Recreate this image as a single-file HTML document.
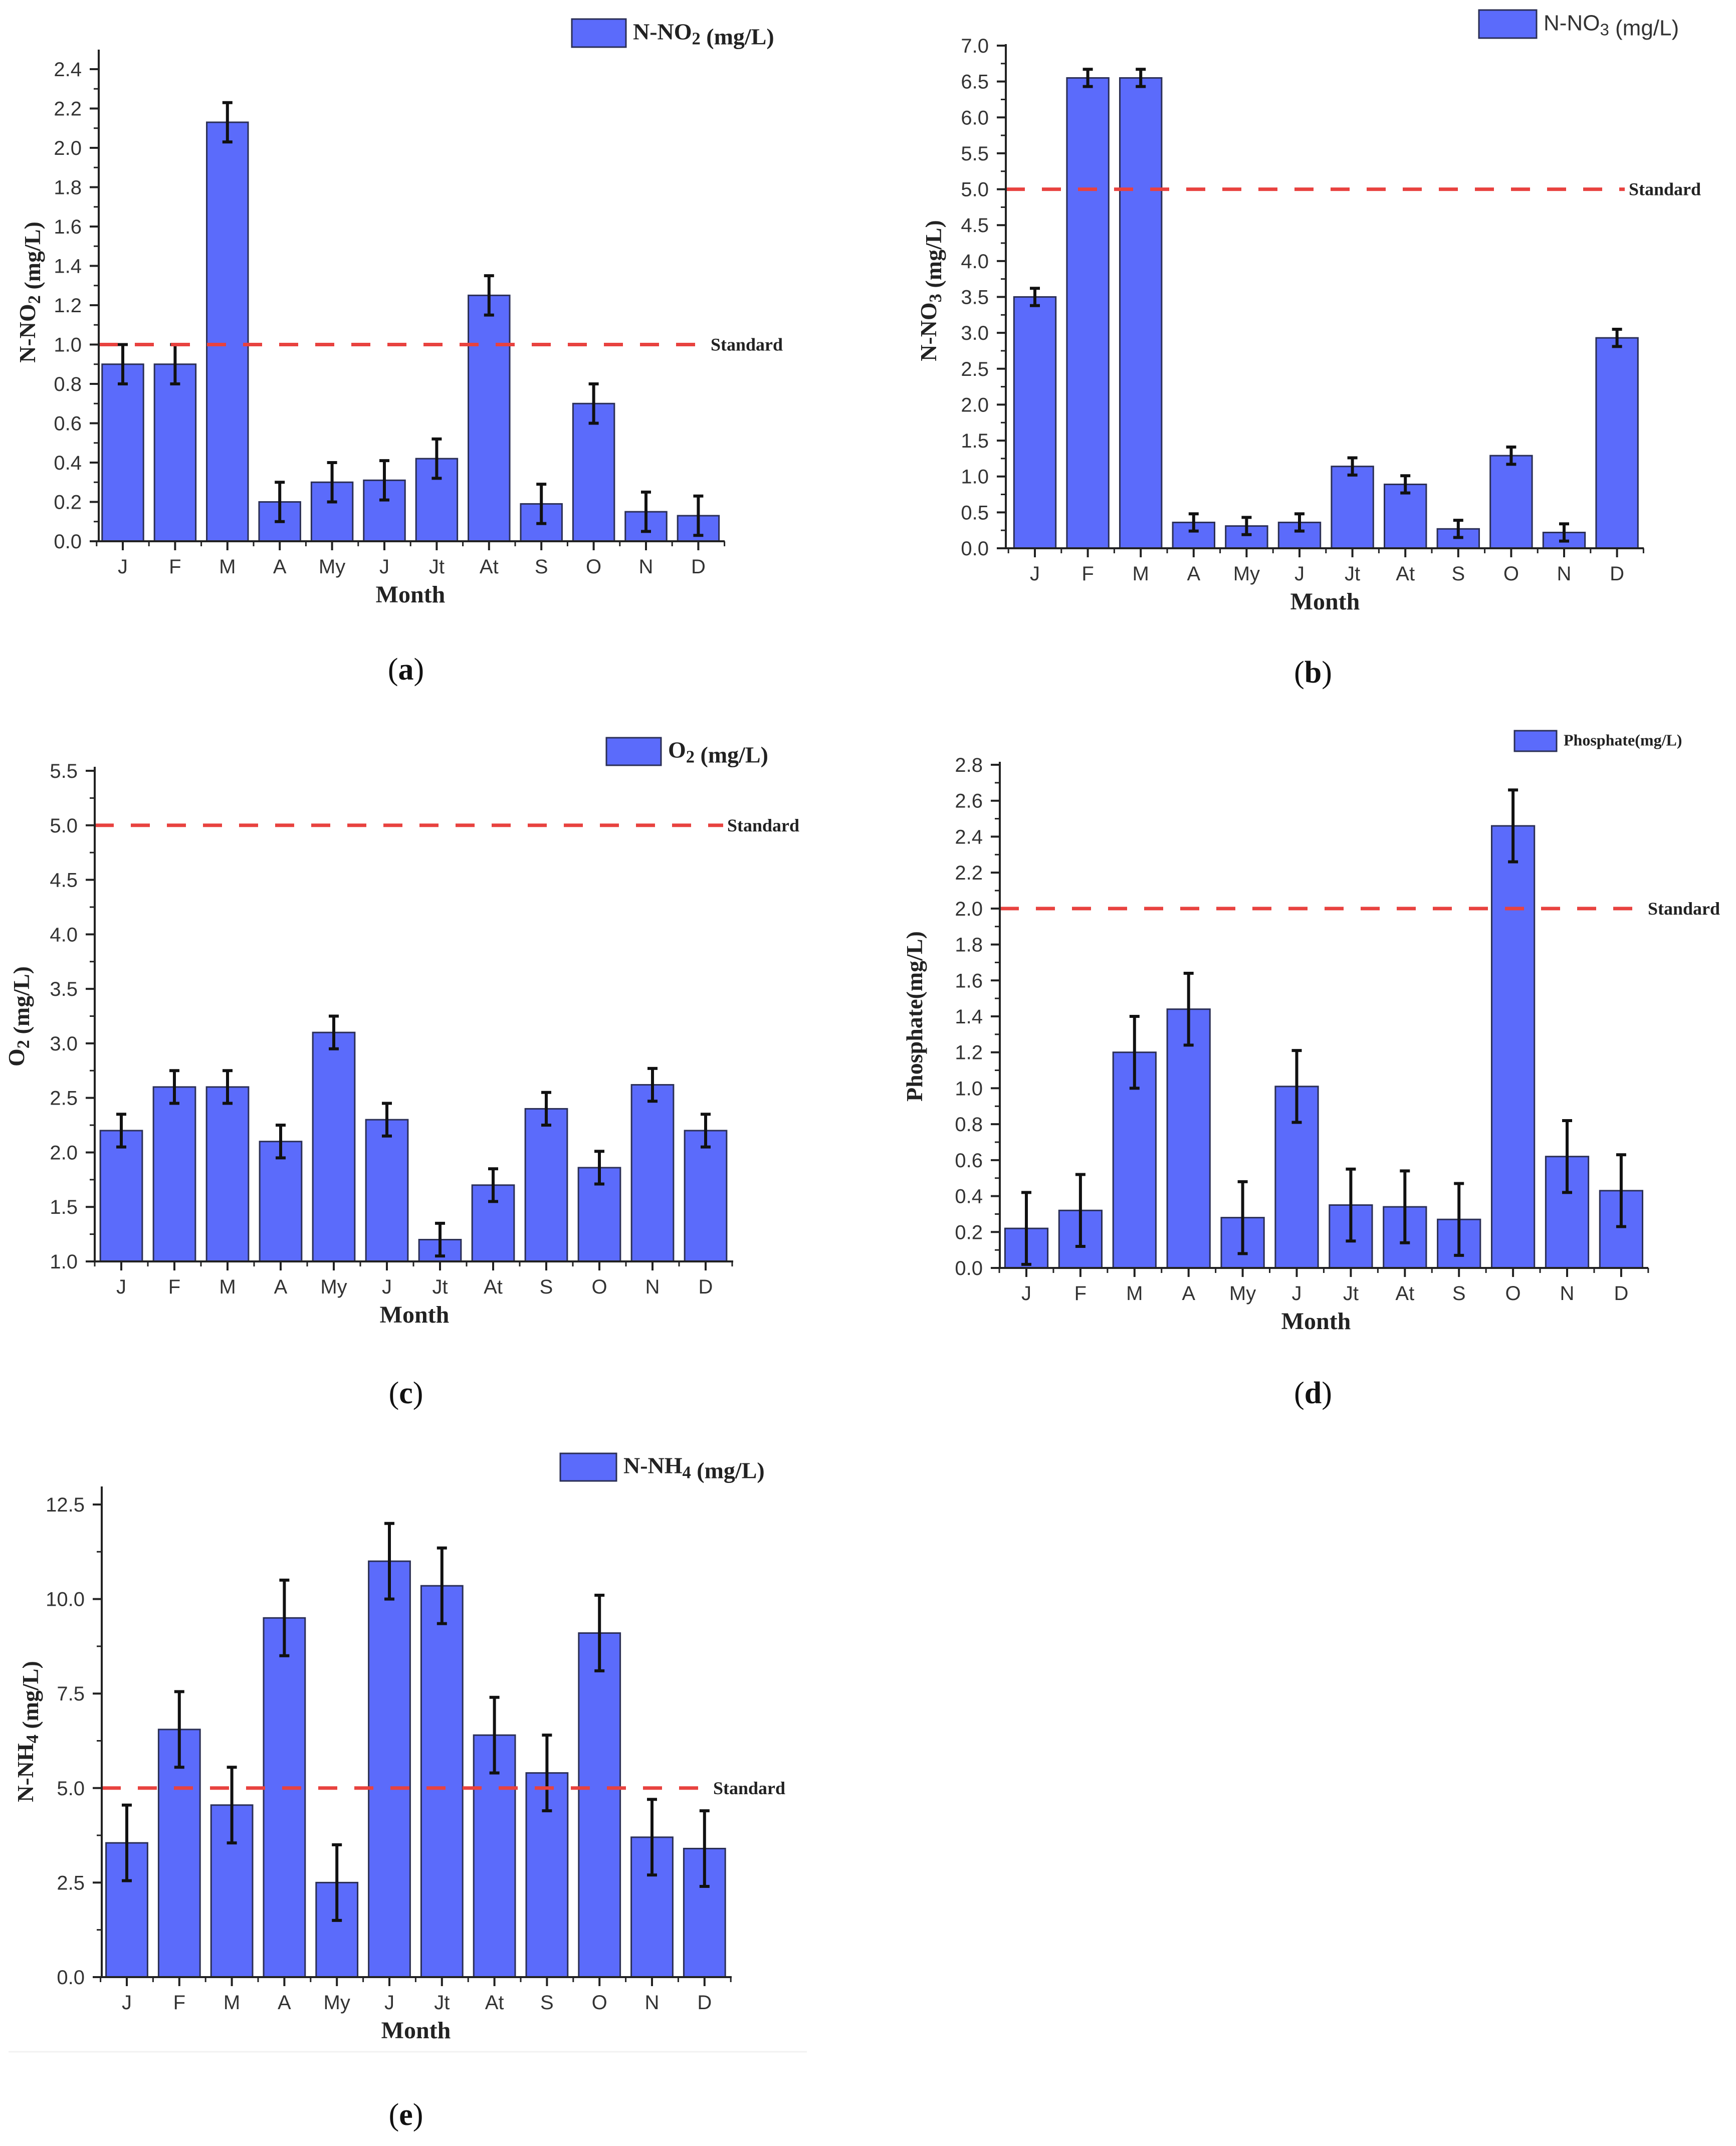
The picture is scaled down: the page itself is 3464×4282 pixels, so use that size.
<!DOCTYPE html>
<html><head><meta charset="utf-8">
<style>
html,body{margin:0;padding:0;background:#fff;}
svg{display:block;}
.tick{font-family:"Liberation Sans",Arial,sans-serif;fill:#333;}
.serif{font-family:"Liberation Serif","Times New Roman",serif;}
</style></head>
<body>
<svg id="fig" width="3464" height="4282" viewBox="0 0 3464 4282" xmlns="http://www.w3.org/2000/svg">
<rect x="0" y="0" width="3464" height="4282" fill="#fff"/>
</svg>
<script>
const months = ["J","F","M","A","My","J","Jt","At","S","O","N","D"];
const valuesA = [0.9,0.9,2.13,0.2,0.3,0.31,0.42,1.25,0.19,0.7,0.15,0.13];
const errorsA = [0.1,0.1,0.1,0.1,0.1,0.1,0.1,0.1,0.1,0.1,0.1,0.1];
const ticksA = ["0.0","0.2","0.4","0.6","0.8","1.0","1.2","1.4","1.6","1.8","2.0","2.2","2.4"];
const standardA = 1.0;
const valuesB = [3.5,6.55,6.55,0.36,0.31,0.36,1.14,0.89,0.27,1.29,0.22,2.93];
const errorsB = [0.12,0.12,0.12,0.12,0.12,0.12,0.12,0.12,0.12,0.12,0.12,0.12];
const ticksB = ["0.0","0.5","1.0","1.5","2.0","2.5","3.0","3.5","4.0","4.5","5.0","5.5","6.0","6.5","7.0"];
const standardB = 5.0;
const valuesC = [2.2,2.6,2.6,2.1,3.1,2.3,1.2,1.7,2.4,1.86,2.62,2.2];
const errorsC = [0.15,0.15,0.15,0.15,0.15,0.15,0.15,0.15,0.15,0.15,0.15,0.15];
const ticksC = ["1.0","1.5","2.0","2.5","3.0","3.5","4.0","4.5","5.0","5.5"];
const standardC = 5.0;
const valuesD = [0.22,0.32,1.2,1.44,0.28,1.01,0.35,0.34,0.27,2.46,0.62,0.43];
const errorsD = [0.2,0.2,0.2,0.2,0.2,0.2,0.2,0.2,0.2,0.2,0.2,0.2];
const ticksD = ["0.0","0.2","0.4","0.6","0.8","1.0","1.2","1.4","1.6","1.8","2.0","2.2","2.4","2.6","2.8"];
const standardD = 2.0;
const valuesE = [3.55,6.55,4.55,9.5,2.5,11.0,10.35,6.4,5.4,9.1,3.7,3.4];
const errorsE = [1,1,1,1,1,1,1,1,1,1,1,1];
const ticksE = ["0.0","2.5","5.0","7.5","10.0","12.5"];
const standardE = 5.0;

const NS = "http://www.w3.org/2000/svg";
const fig = document.getElementById("fig");
function mk(tag, attrs, parent){
  const e = document.createElementNS(NS, tag);
  for (const k in attrs) e.setAttribute(k, attrs[k]);
  (parent||fig).appendChild(e);
  return e;
}

function panel(cfg){
  const g = mk("g", {});
  
  
  const ticks = cfg.ticks.map(Number);
  const vmin = ticks[0], vmax = ticks[ticks.length-1];
  const y = v => cfg.y0 + (v - vmin) / (vmax - vmin) * (cfg.yTop - cfg.y0);
  const x = i => cfg.xFirst + i * cfg.step;
  const bw = cfg.step * 0.79;
  // bars
  cfg.values.forEach((v,i)=>{
    const b = mk("rect", {x:x(i)-bw/2, y:y(v), width:bw, height:cfg.y0-y(v), fill:"#5b6bfb", stroke:"#2b2f55", "stroke-width":3}, g);
    
    
  });
  // error bars
  cfg.values.forEach((v,i)=>{
    const e = cfg.errors[i], cx = x(i);
    const eg = mk("g", {stroke:"#111", "stroke-width":6}, g);
    
    
    mk("line", {x1:cx, x2:cx, y1:y(v+e), y2:y(Math.max(vmin, v-e))}, eg);
    mk("line", {x1:cx-10, x2:cx+10, y1:y(v+e), y2:y(v+e)}, eg);
    if (v-e >= vmin) mk("line", {x1:cx-10, x2:cx+10, y1:y(v-e), y2:y(v-e)}, eg);
  });
  // standard line
  const sl = mk("line", {x1:cfg.ax, x2:cfg.stdEnd, y1:y(cfg.standard), y2:y(cfg.standard), stroke:"#e8423f", "stroke-width":7, "stroke-dasharray":"38 34"}, g);
  
  
  const st = mk("text", {x:cfg.stdEnd+8, y:y(cfg.standard)+12, class:"serif", "font-size":cfg.stdFont||36, "font-weight":"bold", fill:"#222"}, g);
  st.textContent = "Standard";
  
  
  // axes
  const axes = mk("g", {stroke:"#222", "stroke-width":4}, g);
  
  
  mk("line", {x1:cfg.ax, x2:cfg.ax, y1:cfg.y0+2, y2:cfg.axTop}, axes);
  mk("line", {x1:cfg.ax-2, x2:cfg.axRight, y1:cfg.y0, y2:cfg.y0}, axes);
  // y ticks
  ticks.forEach((t,k)=>{
    mk("line", {x1:cfg.ax-18, x2:cfg.ax, y1:y(t), y2:y(t)}, axes);
    if (k < ticks.length-1) {
      const mid = (t + ticks[k+1]) / 2;
      mk("line", {x1:cfg.ax-10, x2:cfg.ax, y1:y(mid), y2:y(mid), "stroke-width":3}, axes);
    }
    const tl = mk("text", {x:cfg.ax-34, y:y(t)+14, class:"tick", "font-size":40, "text-anchor":"end"}, g);
    tl.textContent = cfg.ticks[k];
    
    
  });
  // extra minor ticks above top major up to axis top
  // x ticks
  months.forEach((m,i)=>{
    mk("line", {x1:x(i), x2:x(i), y1:cfg.y0, y2:cfg.y0+18}, axes);
    mk("line", {x1:x(i)+cfg.step/2, x2:x(i)+cfg.step/2, y1:cfg.y0, y2:cfg.y0+10, "stroke-width":3}, axes);
    const xl = mk("text", {x:x(i), y:cfg.y0+64, class:"tick", "font-size":40, "text-anchor":"middle"}, g);
    xl.textContent = m;
    
    
  });
  mk("line", {x1:x(0)-cfg.step/2, x2:x(0)-cfg.step/2, y1:cfg.y0, y2:cfg.y0+10, "stroke-width":3}, axes);
  // x title
  const xt = mk("text", {x:cfg.monthX, y:cfg.y0+122, class:"serif", "font-size":48, "font-weight":"bold", "text-anchor":"middle", fill:"#222"}, g);
  xt.textContent = "Month";
  
  
  // y title
  const yt = mk("text", {x:0, y:0, class:"serif", "font-size":cfg.yFont||46, "font-weight":"bold", "text-anchor":"middle", fill:"#222", transform:"translate("+cfg.ytX+","+cfg.ytY+") rotate(-90)"}, g);
  yt.innerHTML = cfg.ytitle;
  
  
  // legend
  const lg = mk("g", {}, g);
  
  
  mk("rect", {x:cfg.lx, y:cfg.ly, width:cfg.lw, height:cfg.lh, fill:"#5b6bfb", stroke:"#2b2f55", "stroke-width":3}, lg);
  const lt = mk("text", {x:cfg.lx+cfg.lw+14, y:cfg.ly+cfg.lh*0.72, class:cfg.lsans?"tick":"serif", "font-size":cfg.lFont||46, "font-weight":cfg.lsans?"normal":"bold", fill:"#222"}, lg);
  lt.innerHTML = cfg.ltext;
  // panel label
  const pl = mk("text", {x:cfg.plX, y:cfg.plY, class:"serif", "font-size":62, "text-anchor":"middle", fill:"#111"}, g);
  pl.innerHTML = "(<tspan font-weight='bold'>" + cfg.letter + "</tspan>)";
  
  
}

const sub = n => "<tspan font-size='0.75em' dy='10'>" + n + "</tspan><tspan dy='-10'></tspan>";

panel({id:"chart-a-nitrite", letter:"a", values:valuesA, errors:errorsA, ticks:ticksA, standard:standardA,
  ax:197, axTop:99, axRight:1446, y0:1080, yTop:138, xFirst:245, step:104.4, stdEnd:1410,
  monthX:819, ytX:70, ytY:583, ytitle:"N-NO"+sub(2)+" (mg/L)",
  lx:1141, ly:38, lw:108, lh:56, ltext:"N-NO"+sub(2)+" (mg/L)", plX:810, plY:1356});
panel({id:"chart-b-nitrate", letter:"b", values:valuesB, errors:errorsB, ticks:ticksB, standard:standardB,
  ax:2007, axTop:88, axRight:3280, y0:1094, yTop:91, xFirst:2065, step:105.6, stdEnd:3242,
  monthX:2644, ytX:1868, ytY:580, ytitle:"N-NO"+sub(3)+" (mg/L)",
  lx:2951, ly:20, lw:115, lh:56, ltext:"N-NO"+sub(3)+" (mg/L)", lsans:true, lFont:44, plX:2620, plY:1362});
panel({id:"chart-c-oxygen", letter:"c", values:valuesC, errors:errorsC, ticks:ticksC, standard:standardC,
  ax:189, axTop:1530, axRight:1463, y0:2517, yTop:1538, xFirst:242, step:106, stdEnd:1443,
  monthX:827, ytX:48, ytY:2028, ytitle:"O"+sub(2)+" (mg/L)",
  lx:1210, ly:1472, lw:109, lh:55, ltext:"O"+sub(2)+" (mg/L)", plX:810, plY:2800});
panel({id:"chart-d-phosphate", letter:"d", values:valuesD, errors:errorsD, ticks:ticksD, standard:standardD,
  ax:1995, axTop:1520, axRight:3289, y0:2530, yTop:1526, xFirst:2048, step:107.9, stdEnd:3280,
  monthX:2626, ytX:1840, ytY:2028, ytitle:"Phosphate(mg/L)",
  lx:3022, ly:1458, lw:84, lh:41, ltext:"Phosphate(mg/L)", lFont:32, plX:2620, plY:2800});
panel({id:"chart-e-ammonium", letter:"e", values:valuesE, errors:errorsE, ticks:ticksE, standard:standardE,
  ax:203, axTop:2966, axRight:1460, y0:3945, yTop:3002, xFirst:253, step:104.8, stdEnd:1415,
  monthX:830, ytX:66, ytY:3455, ytitle:"N-NH"+sub(4)+" (mg/L)",
  lx:1118, ly:2900, lw:112, lh:55, ltext:"N-NH"+sub(4)+" (mg/L)", plX:810, plY:4240});

const sep = mk("line", {x1:17, x2:1610, y1:4094, y2:4094, stroke:"#f2f2f2", "stroke-width":3});


</script>
</body></html>
